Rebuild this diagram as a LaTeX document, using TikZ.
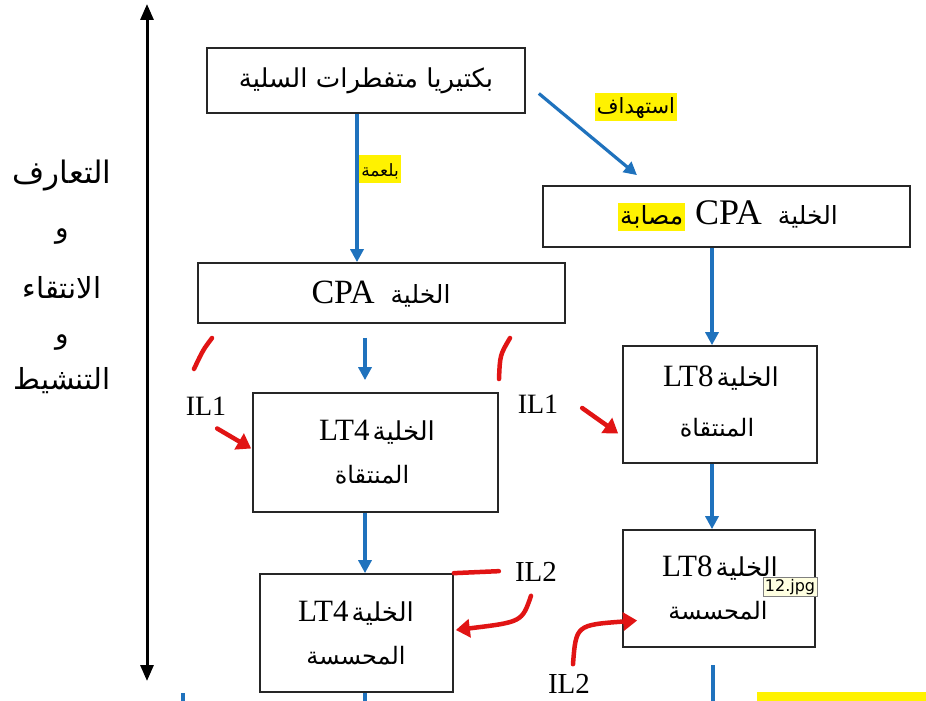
\documentclass[tikz,border=0pt]{standalone}
\usepackage{fontspec}
\setmainfont{Liberation Serif}
\newfontfamily\arfont[Script=Arabic]{DejaVu Sans}
\newfontfamily\tipfont{DejaVu Sans}
\TeXXeTstate=1
\usetikzlibrary{arrows.meta}
\definecolor{arblue}{RGB}{31,114,189}
\definecolor{arred}{RGB}{225,20,20}
\definecolor{hl}{RGB}{255,242,0}
\definecolor{tipbg}{RGB}{255,255,225}
\newcommand{\artxt}[2][24]{{\fontsize{#1}{#1}\arfont\beginR #2\endR}}
\newcommand{\lattxt}[2][30]{{\fontsize{#1}{#1}\selectfont #2}}
\newcommand{\hlbox}[1]{{\setlength{\fboxsep}{2pt}\colorbox{hl}{\rule[-5pt]{0pt}{24pt}#1}}}
\tikzset{
  box/.style={draw=black!85, line width=1.7pt, inner sep=0pt, fill=white},
  txt/.style={inner sep=0pt},
  bluearr/.style={draw=arblue, line width=3.2pt, -{Triangle[length=13pt,width=13pt]}},
  bluestub/.style={draw=arblue, line width=3.2pt},
  redarr/.style={draw=arred, line width=4.5pt, line cap=round, -{Triangle[length=14pt,width=18pt]}},
  redmark/.style={draw=arred, line width=4.5pt, line cap=round},
  bigarr/.style={draw=black, line width=3pt, {Triangle[length=16pt,width=13pt]}-{Triangle[length=16pt,width=13pt]}}
}
\begin{document}
\begin{tikzpicture}[x=1pt,y=-1pt]
\useasboundingbox (0,0) rectangle (926,701);
\fill[white] (0,0) rectangle (926,701);

% left vertical double arrow
\coordinate (vtop) at (147,4);
\coordinate (vbot) at (147,681);
\draw[bigarr] (vbot) -- (vtop);

% left labels
\node[txt] (l1) at (62,176) {\artxt[31]{التعارف}};
\node[txt] (l2) at (62,236) {\artxt[28]{و}};
\node[txt] (l3) at (62,288) {\artxt[29]{الانتقاء}};
\node[txt] (l4) at (62,342) {\artxt[28]{و}};
\node[txt] (l5) at (62,381) {\artxt[29]{التنشيط}};

% boxes
\node[box, minimum width=318pt, minimum height=65pt] (bact) at (366,80.5) {\artxt[26]{بكتيريا متفطرات  السلية}};
\node[box, minimum width=367pt, minimum height=61pt] (cpainf) at (726.5,216.5) {};
\node[box, minimum width=367pt, minimum height=60pt] (cpa) at (381.5,293) {};
\node[box, minimum width=245pt, minimum height=119pt] (lt4sel) at (375.5,452.5) {};
\node[box, minimum width=194pt, minimum height=117pt] (lt8sel) at (720,404.5) {};
\node[box, minimum width=193pt, minimum height=118pt] (lt4sen) at (356.5,633) {};
\node[box, minimum width=192pt, minimum height=117pt] (lt8sen) at (719,588.5) {};

% box texts
\node[txt] (cpainft) at (728,216) {\hlbox{\artxt[25]{مصابة}}\hspace{10pt}\lattxt[36]{CPA}\hspace{16pt}\artxt[25]{الخلية}};
\node[txt] (cpat) at (381,294) {\lattxt[34]{CPA}\hspace{16pt}\artxt[25]{الخلية}};
\node[txt] (lt4selt1) at (377,432) {\lattxt[31]{LT4}\hspace{3pt}\artxt[26]{الخلية}};
\node[txt] (lt4selt2) at (372,475) {\artxt[24]{المنتقاة}};
\node[txt] (lt8selt1) at (721,378) {\lattxt[31]{LT8}\hspace{3pt}\artxt[26]{الخلية}};
\node[txt] (lt8selt2) at (717,428) {\artxt[24]{المنتقاة}};
\node[txt] (lt4sent1) at (356,613) {\lattxt[31]{LT4}\hspace{3pt}\artxt[26]{الخلية}};
\node[txt] (lt4sent2) at (356,656) {\artxt[24]{المحسسة}};
\node[txt] (lt8sent1) at (720,568) {\lattxt[31]{LT8}\hspace{3pt}\artxt[26]{الخلية}};
\node[txt] (lt8sent2) at (718,611) {\artxt[24]{المحسسة}};

% highlighted edge labels
\node[txt] (phago) at (380,169) {\hlbox{\artxt[17]{بلعمة}}};
\node[txt] (target) at (636,107) {\hlbox{\artxt[21]{استهداف}}};

% blue arrows
\draw[bluearr] ([xshift=-9pt]bact.south) -- ([xshift=-9pt]bact.south |- cpa.north);
\draw[bluearr] ([shift={(13,13)}]bact.east) -- ([shift={(-89.5,-10)}]cpainf.north);
\draw[bluearr] ([xshift=-14.5pt]cpainf.south) -- ([xshift=-14.5pt]cpainf.south |- lt8sel.north);
\draw[bluearr] ([shift={(-16.5,14)}]cpa.south) -- ([shift={(-10.5,-12)}]lt4sel.north);
\draw[bluearr] ([xshift=-8pt]lt8sel.south) -- ([xshift=-8pt]lt8sel.south |- lt8sen.north);
\draw[bluearr] ([xshift=-10.5pt]lt4sel.south) -- ([xshift=-10.5pt]lt4sel.south |- lt4sen.north);
\coordinate (s1e) at (365,701);
\draw[bluestub] ([xshift=8.5pt]lt4sen.south) -- (s1e);
\coordinate (s2a) at (713,665);
\coordinate (s2e) at (713,701);
\draw[bluestub] (s2a) -- (s2e);
\coordinate (s3a) at (183,693);
\coordinate (s3e) at (183,701);
\draw[bluestub] (s3a) -- (s3e);

% IL labels
\node[txt] (il1a) at (206,406) {\lattxt[28]{IL1}};
\node[txt] (il1b) at (538,404) {\lattxt[28]{IL1}};
\node[txt] (il2a) at (536,572) {\lattxt[29]{IL2}};
\node[txt] (il2b) at (569,684) {\lattxt[29]{IL2}};

% red marks and arrows
\coordinate (r1a) at (212,338);
\coordinate (r1b) at (194,369);
\draw[redmark] (r1a) .. controls (203,350) .. (r1b);
\coordinate (r2a) at (510,338);
\coordinate (r2b) at (499,379);
\draw[redmark] (r2a) .. controls (500,355) .. (r2b);
\draw[redarr] ([shift={(-35,-24)}]lt4sel.west) -- ([shift={(-1,-4)}]lt4sel.west);
\draw[redarr] ([shift={(-40,3.5)}]lt8sel.west) -- ([shift={(-4,29)}]lt8sel.west);
\draw[redmark] (lt4sen.north east) -- ([shift={(45,-2)}]lt4sen.north east);
\draw[redarr] ([shift={(-5,14)}]il2a.south) .. controls (522,622) .. ([shift={(2,-3)}]lt4sen.east);
\draw[redarr] ([shift={(4,-10)}]il2b.north) .. controls (576,625) .. ([shift={(15,32)}]lt8sen.west);

% tooltip
\node[draw=black!50, fill=tipbg, inner sep=2pt, line width=0.6pt] (tip) at (790,587) {\tipfont\fontsize{16}{16}\selectfont 12.jpg};

% yellow strip at bottom right
\fill[hl] (757,692) rectangle (926,701);
\end{tikzpicture}
\end{document}
